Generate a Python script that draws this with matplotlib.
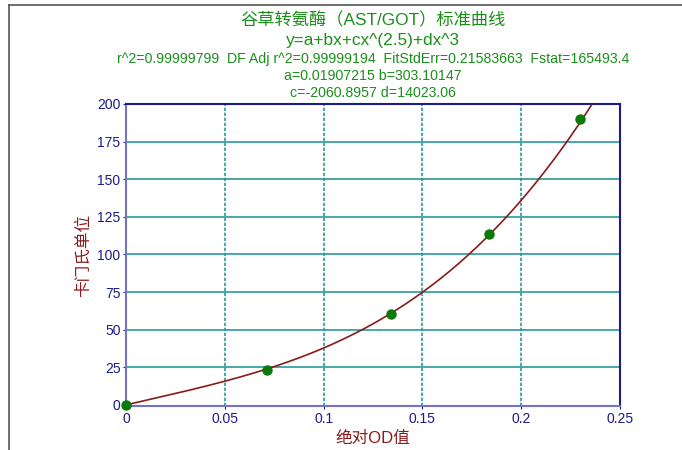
import numpy as np
import matplotlib
matplotlib.use("Agg")
import matplotlib.pyplot as plt
from matplotlib.lines import Line2D

plt.rcParams['font.family'] = ['Liberation Sans', 'Noto Sans CJK SC', 'DejaVu Sans']

# measured standards
od_values = [0.0, 0.0714, 0.134, 0.1837, 0.2298]
units = [0.0, 23.5, 60.5, 113.8, 190.2]

# fit y = a + b*x + c*x^2.5 + d*x^3 (coefficients from the chart)
coef_a = 0.01907215
coef_b = 303.10147
coef_c = -2060.8957
coef_d = 14023.06

title = "谷草转氨酶（AST/GOT）标准曲线"
formula = "y=a+bx+cx^(2.5)+dx^3"
stats = "r^2=0.99999799  DF Adj r^2=0.99999194  FitStdErr=0.21583663  Fstat=165493.4"
line_ab = "a=0.01907215 b=303.10147"
line_cd = "c=-2060.8957 d=14023.06"

x_ticks = [0, 0.05, 0.1, 0.15, 0.2, 0.25]
x_ticklabels = ["0", "0.05", "0.1", "0.15", "0.2", "0.25"]
y_ticks = [0, 25, 50, 75, 100, 125, 150, 175, 200]

green = "#1a8f1a"
navy = "#1c1c8a"
darkred = "#8b1a1a"
teal = "#2a9a9a"

fig = plt.figure(figsize=(6.82, 4.5), dpi=100)
ax = fig.add_axes([0.1848, 0.0978, 0.7242, 0.6711])

xs = np.linspace(0, 0.25, 400)
ys = coef_a + coef_b * xs + coef_c * xs ** 2.5 + coef_d * xs ** 3
ax.plot(xs, ys, color=darkred, lw=1.2, zorder=3)
ax.plot(od_values, units, 'o', color="#0a7a0a", ms=6.5, zorder=4, clip_on=False)

ax.set_xlim(0, 0.25)
ax.set_ylim(-0.7, 200)
ax.set_xticks(x_ticks)
ax.set_xticklabels(x_ticklabels)
ax.set_yticks(y_ticks)
ax.tick_params(colors=navy, labelsize=10, length=2, pad=2)
for lab in ax.get_xticklabels() + ax.get_yticklabels():
    lab.set_color(navy)

for v in x_ticks[1:-1]:
    ax.axvline(v, color=teal, lw=1.2, ls=(0, (2, 1)), zorder=1)
for v in y_ticks[1:-1]:
    ax.axhline(v, color=teal, lw=1.2, zorder=1)

ax.spines['left'].set_color("#7373c4")
ax.spines['bottom'].set_color("#7373c4")
ax.spines['top'].set_color(navy)
ax.spines['right'].set_color(navy)
for s in ax.spines.values():
    s.set_linewidth(1.5)

ax.set_xlabel("绝对OD值", color=darkred, fontsize=12, labelpad=4)
ax.set_ylabel("卡门氏单位", color=darkred, fontsize=12, labelpad=4)

fig.text(0.547, 1 - 20 / 450, title, color=green, fontsize=12.4, ha='center', va='center')
fig.text(0.547, 1 - 41 / 450, formula, color=green, fontsize=12.4, ha='center', va='center')
fig.text(0.547, 1 - 59 / 450, stats, color=green, fontsize=10.2, ha='center', va='center')
fig.text(0.547, 1 - 76 / 450, line_ab, color=green, fontsize=10.2, ha='center', va='center')
fig.text(0.547, 1 - 93 / 450, line_cd, color=green, fontsize=10.2, ha='center', va='center')

# outer frame lines at top and left
fig.add_artist(Line2D([9 / 682, 1], [1 - 5 / 450, 1 - 5 / 450], color="#555555", lw=1.2))
fig.add_artist(Line2D([9 / 682, 9 / 682], [0, 1 - 5 / 450], color="#555555", lw=1.2))

fig.savefig("out.png", dpi=100)
